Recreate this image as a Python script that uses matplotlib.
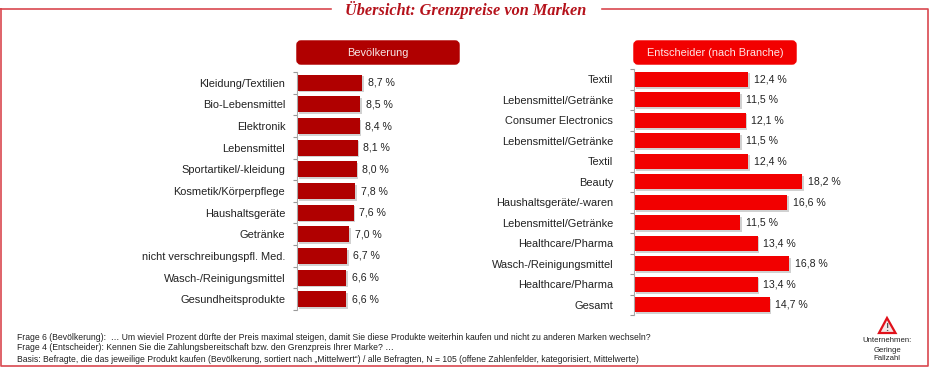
import matplotlib
matplotlib.use("Agg")
import matplotlib.pyplot as plt
import matplotlib.patheffects as pe
from matplotlib.patches import FancyBboxPatch, Rectangle, Polygon

plt.rcParams['font.family'] = ['Liberation Sans', 'DejaVu Sans']

# Data
pop_labels = ["Kleidung/Textilien", "Bio-Lebensmittel", "Elektronik", "Lebensmittel",
              "Sportartikel/-kleidung", "Kosmetik/Körperpflege", "Haushaltsgeräte",
              "Getränke", "nicht verschreibungspfl. Med.", "Wasch-/Reinigungsmittel",
              "Gesundheitsprodukte"]
pop_values = [8.7, 8.5, 8.4, 8.1, 8.0, 7.8, 7.6, 7.0, 6.7, 6.6, 6.6]

dec_labels = ["Textil", "Lebensmittel/Getränke", "Consumer Electronics",
              "Lebensmittel/Getränke", "Textil", "Beauty", "Haushaltsgeräte/-waren",
              "Lebensmittel/Getränke", "Healthcare/Pharma", "Wasch-/Reinigungsmittel",
              "Healthcare/Pharma", "Gesamt"]
dec_values = [12.4, 11.5, 12.1, 11.5, 12.4, 18.2, 16.6, 11.5, 13.4, 16.8, 13.4, 14.7]

footnotes = [
    "Frage 6 (Bevölkerung):  … Um wieviel Prozent dürfte der Preis maximal steigen, damit Sie diese Produkte weiterhin kaufen und nicht zu anderen Marken wechseln?",
    "Frage 4 (Entscheider): Kennen Sie die Zahlungsbereitschaft bzw. den Grenzpreis Ihrer Marke? …",
    "Basis: Befragte, die das jeweilige Produkt kaufen (Bevölkerung, sortiert nach „Mittelwert“) / alle Befragten, N = 105 (offene Zahlenfelder, kategorisiert, Mittelwerte)",
]

W, H = 932, 373
DARK = "#b00000"
RED = "#f20000"
FRAME = "#d9484f"

fig = plt.figure(figsize=(W / 100, H / 100), dpi=100)

# overlay in pixel coordinates for frame, headers and notes
bg = fig.add_axes([0, 0, 1, 1])
bg.set_xlim(0, W)
bg.set_ylim(H, 0)
bg.axis("off")

bg.plot([1, 1, 928, 928, 1], [9, 366, 366, 9, 9], color=FRAME, lw=1.2)
bg.add_patch(Rectangle((332, 0), 268, 18, color="white", zorder=2))
bg.text(466, 10, "Übersicht: Grenzpreise von Marken", family="Liberation Serif",
        style="italic", weight="bold", size=11.7, color="#b5121b",
        ha="center", va="center", zorder=3)


def header(x, w, color, text):
    bg.add_patch(FancyBboxPatch((x + 2, 42), w - 4, 21, boxstyle="round,pad=0,rounding_size=3",
                                mutation_aspect=1, fc=color, ec=color, lw=2.5))
    bg.text(x + w / 2, 53, text, color="white", size=7.9, ha="center", va="center",
            alpha=0.9)


header(296, 164, DARK, "Bevölkerung")
header(633, 164, RED, "Entscheider (nach Branche)")


def bar_panel(rect, labels, values, color, xmax, pad):
    ax = fig.add_axes([rect[0] / W, 1 - (rect[1] + rect[3]) / H, rect[2] / W, rect[3] / H])
    ax.patch.set_alpha(0)
    pos = list(range(len(values)))
    bars = ax.barh(pos, values, height=0.74, color=color)
    for b in bars:
        b.set_path_effects([pe.withSimplePatchShadow(offset=(1.2, -1.2), shadow_rgbFace="#999999",
                                                     alpha=0.45), pe.Normal()])
    ax.set_xlim(0, xmax)
    ax.set_ylim(len(values) - 0.5, -0.5)
    ax.set_yticks(pos, labels)
    ax.set_yticks([p - 0.5 for p in pos] + [len(values) - 0.5], minor=True)
    ax.tick_params(axis="y", which="major", length=0, pad=pad, labelsize=7.9, labelcolor="#222222")
    ax.tick_params(axis="y", which="minor", length=3, color="#999999", width=0.8)
    ax.set_xticks([])
    for s in ["top", "right", "bottom"]:
        ax.spines[s].set_visible(False)
    ax.spines["left"].set_color("#aaaaaa")
    ax.spines["left"].set_linewidth(0.8)
    for p, v in zip(pos, values):
        txt = f"{v:.1f} %".replace(".", ",")
        ax.annotate(txt, (v, p), xytext=(4, 0), textcoords="offset points",
                    va="center", ha="left", size=7.6, color="#222222")
    return ax


bar_panel((297, 72, 160, 238), pop_labels, pop_values, DARK, 160 / 7.47, 8.5)
bar_panel((634, 69, 200, 246), dec_labels, dec_values, RED, 200 / 9.23, 15)

# footnotes
for y, line in zip([338, 348, 359], footnotes):
    bg.text(17, y, line, size=6.2, color="#222222", ha="left", va="center")

# warning sign
bg.add_patch(Polygon([[879, 333], [887, 318], [895.5, 333]], closed=True,
                     fc="#f3e6e6", ec="#e0101a", lw=1.6))
bg.text(887.2, 328, "!", size=7, weight="bold", color="#555555", ha="center", va="center")
for y, line in zip([341, 350, 358], ["Unternehmen:", "Geringe", "Fallzahl"]):
    bg.text(887, y, line, size=5.6, color="#222222", ha="center", va="center")

fig.savefig("out.png", dpi=100)
